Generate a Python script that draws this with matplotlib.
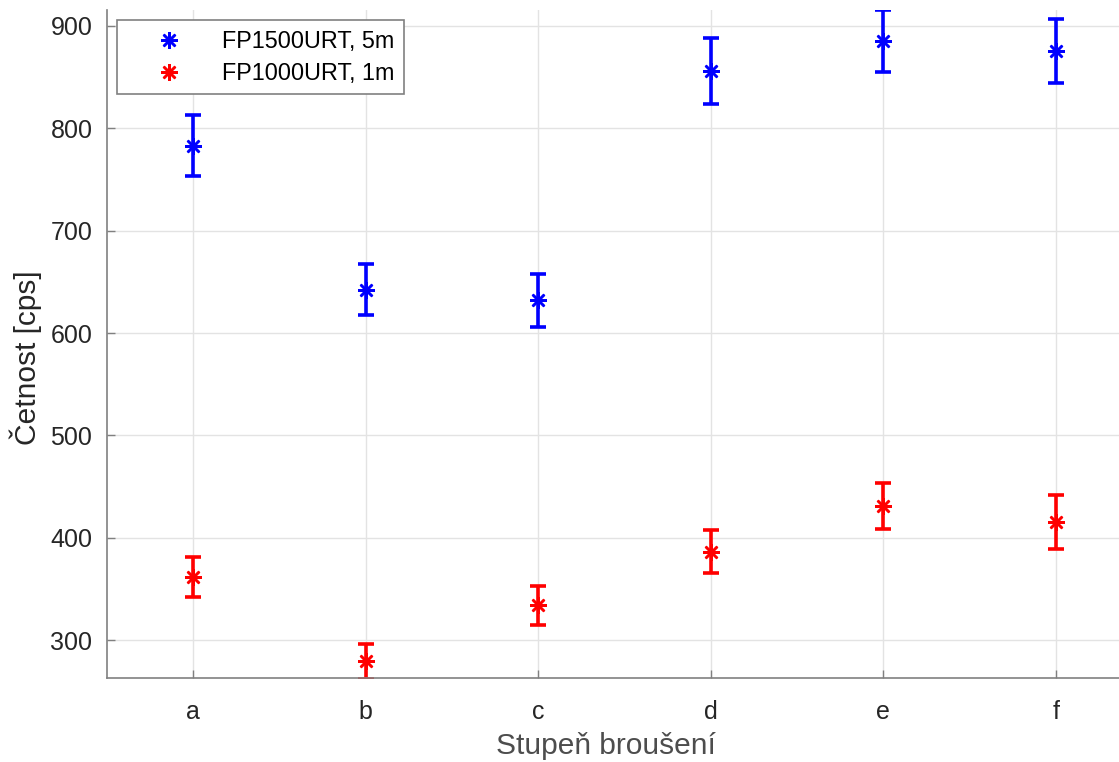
import numpy as np
import matplotlib.pyplot as plt

plt.rcParams['font.family'] = ['Liberation Sans', 'DejaVu Sans']

# stupne brouseni
stupne = ['a', 'b', 'c', 'd', 'e', 'f']
# FP1500URT, 5m
cet_5m = [783, 642.5, 632, 856, 885.5, 875.5]
err_5m = [30, 25, 26, 32, 30, 31]
# FP1000URT, 1m
cet_1m = [362, 279.5, 334, 386.5, 431, 415.5]
err_1m = [19.5, 17, 19, 21, 22.5, 26]

x = np.arange(1, len(stupne) + 1)

fig = plt.figure(figsize=(11.19, 7.62), dpi=100)
ax = fig.add_axes([0.0956, 0.1102, 0.925, 0.8767])

# error bars
ax.errorbar(x, cet_5m, yerr=err_5m, fmt='none', ecolor='#0000ff', elinewidth=2.6,
            capsize=6, capthick=2.6)
ax.errorbar(x, cet_1m, yerr=err_1m, fmt='none', ecolor='#ff0000', elinewidth=2.6,
            capsize=6, capthick=2.6)
# markers (MATLAB-like asterisk)
ax.plot(x, cet_5m, linestyle='none', marker=(8, 2, 0), markersize=12, mew=1.8,
        color='#0000ff', label='FP1500URT, 5m')
ax.plot(x, cet_1m, linestyle='none', marker=(8, 2, 0), markersize=12, mew=1.8,
        color='#ff0000', label='FP1000URT, 1m')

ax.set_xlim(0.5, 6.5)
ax.set_ylim(263, 915.6)
ax.set_xticks(x)
ax.set_xticklabels(stupne)
ax.set_yticks([300, 400, 500, 600, 700, 800, 900])
ax.grid(True, color='#e3e3e3', linewidth=1)
ax.set_axisbelow(True)
ax.tick_params(direction='in', length=6, width=1, colors='#808080',
               labelcolor='#262626', labelsize=18, pad=16)
ax.tick_params(axis='y', pad=10.5)
for s in ['top', 'right']:
    ax.spines[s].set_visible(False)
for s in ['left', 'bottom']:
    ax.spines[s].set_color('#808080')
    ax.spines[s].set_linewidth(1.2)

ax.set_xlabel('Stupeň broušení', fontsize=21.5, color='#4d4d4d')
ax.set_ylabel('Četnost [cps]', fontsize=21.5, color='#262626')
ax.xaxis.set_label_coords(0.482, -0.081)
ax.yaxis.set_label_coords(-0.063, 0.48)

leg = ax.legend(loc='upper left', fontsize=16.8, frameon=True, fancybox=False,
                edgecolor='#808080', framealpha=1, borderaxespad=0.45,
                handletextpad=0.5, borderpad=0.4, handlelength=3.6, labelspacing=0.4)
leg.get_frame().set_linewidth(1.2)

fig.savefig('out.png', dpi=100)
